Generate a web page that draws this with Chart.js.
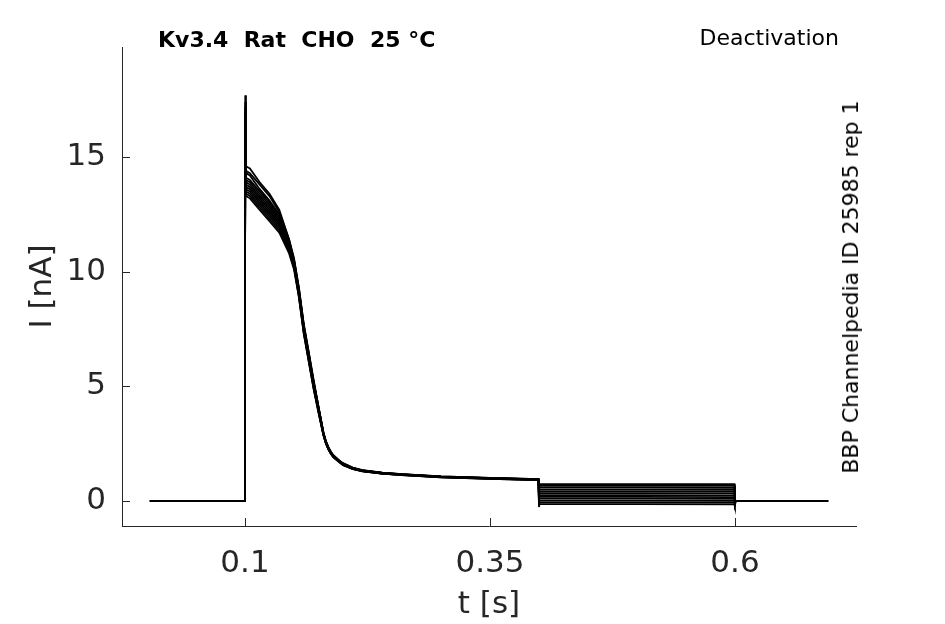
<!DOCTYPE html>
<html>
<head>
<meta charset="utf-8">
<script src="https://cdn.jsdelivr.net/npm/chart.js@4.4.1/dist/chart.umd.min.js"></script>
<style>
  html, body { margin: 0; padding: 0; background: #ffffff; }
  #wrap { position: relative; width: 945px; height: 624px; }
  canvas { position: absolute; left: 0; top: 0; }
  .note { position: absolute; font-family: "DejaVu Sans", sans-serif; color: #000; white-space: pre; line-height: 1; }
  #t1 { left: 158px; top: 29px; font-size: 22px; font-weight: bold; }
  #t2 { right: 106px; top: 27px; font-size: 22px; }
  #t3 { left: 851px; top: 287px; font-size: 22px; transform: translate(-50%, -50%) rotate(-90deg); }
</style>
</head>
<body>
<div id="wrap">
  <canvas id="c" width="945" height="624"></canvas>
  <div class="note" id="t1">Kv3.4  Rat  CHO  25 °C</div>
  <div class="note" id="t2">Deactivation</div>
  <div class="note" id="t3">BBP Channelpedia ID 25985 rep 1</div>
</div>
<script>
// time points (s)
const times = [0.003, 0.0998, 0.1, 0.1003, 0.101, 0.105, 0.115, 0.125, 0.135, 0.145,
  0.15, 0.155, 0.16, 0.165, 0.17, 0.175, 0.18, 0.1825, 0.185, 0.1875,
  0.19, 0.195, 0.2, 0.21, 0.22, 0.24, 0.26, 0.3, 0.35, 0.3995,
  0.4, 0.4005, 0.5, 0.5995, 0.6, 0.6005, 0.695];

// current sweeps (nA)
const sweep1  = [0, 0, 8, 17.7, 14.6, 14.5, 13.9, 13.4, 12.7, 11.4, 10.6, 9.3, 7.7, 6.5, 5.3, 4.1, 3.0, 2.62, 2.36, 2.16, 2.01, 1.81, 1.65, 1.46, 1.35, 1.24, 1.17, 1.07, 1.01, 0.95, 0.62, 0.75, 0.74, 0.73, -0.06, 0, 0];
const sweep2  = [0, 0, 8, 17.4, 14.4, 14.3, 13.8, 13.3, 12.6, 11.4, 10.5, 9.3, 7.7, 6.5, 5.2, 4.1, 3.0, 2.61, 2.35, 2.15, 2.0, 1.8, 1.64, 1.45, 1.34, 1.24, 1.17, 1.07, 1.01, 0.95, 0.55, 0.67, 0.66, 0.66, -0.06, 0, 0];
const sweep3  = [0, 0, 8, 17.2, 14.3, 14.2, 13.6, 13.1, 12.5, 11.3, 10.5, 9.2, 7.6, 6.4, 5.2, 4.1, 2.98, 2.6, 2.34, 2.14, 1.99, 1.79, 1.63, 1.44, 1.33, 1.23, 1.16, 1.06, 1.0, 0.94, 0.46, 0.58, 0.58, 0.57, -0.07, 0, 0];
const sweep4  = [0, 0, 8, 17.0, 14.1, 14.0, 13.5, 13.0, 12.4, 11.3, 10.5, 9.2, 7.6, 6.4, 5.2, 4.1, 2.97, 2.59, 2.33, 2.13, 1.98, 1.79, 1.62, 1.43, 1.33, 1.23, 1.16, 1.06, 1.0, 0.94, 0.38, 0.5, 0.5, 0.49, -0.07, 0, 0];
const sweep5  = [0, 0, 8, 16.9, 14.0, 13.9, 13.4, 12.9, 12.3, 11.2, 10.4, 9.2, 7.6, 6.4, 5.1, 4.0, 2.96, 2.58, 2.32, 2.12, 1.97, 1.78, 1.61, 1.43, 1.32, 1.22, 1.16, 1.06, 1.0, 0.94, 0.3, 0.42, 0.42, 0.41, -0.08, 0, 0];
const sweep6  = [0, 0, 8, 16.8, 13.9, 13.8, 13.3, 12.8, 12.2, 11.2, 10.4, 9.1, 7.5, 6.3, 5.1, 4.0, 2.95, 2.57, 2.31, 2.11, 1.96, 1.77, 1.6, 1.42, 1.32, 1.22, 1.15, 1.05, 0.99, 0.93, 0.22, 0.34, 0.34, 0.33, -0.08, 0, 0];
const sweep7  = [0, 0, 8, 16.7, 13.8, 13.7, 13.2, 12.7, 12.1, 11.1, 10.4, 9.1, 7.5, 6.3, 5.1, 4.0, 2.94, 2.56, 2.3, 2.1, 1.96, 1.77, 1.6, 1.42, 1.31, 1.21, 1.15, 1.05, 0.99, 0.93, 0.14, 0.26, 0.26, 0.25, -0.09, 0, 0];
const sweep8  = [0, 0, 8, 16.6, 13.7, 13.6, 13.1, 12.6, 12.1, 11.1, 10.3, 9.1, 7.5, 6.3, 5.0, 3.95, 2.92, 2.55, 2.29, 2.1, 1.95, 1.76, 1.59, 1.41, 1.31, 1.21, 1.15, 1.05, 0.99, 0.93, 0.06, 0.18, 0.18, 0.17, -0.1, 0, 0];
const sweep9  = [0, 0, 8, 16.5, 13.6, 13.5, 13.0, 12.5, 12.0, 11.0, 10.3, 9.0, 7.4, 6.2, 5.0, 3.95, 2.91, 2.54, 2.28, 2.09, 1.94, 1.75, 1.58, 1.41, 1.3, 1.2, 1.14, 1.04, 0.98, 0.92, -0.02, 0.1, 0.1, 0.09, -0.12, 0, 0];
const sweep10 = [0, 0, 8, 16.4, 13.5, 13.4, 12.9, 12.4, 11.9, 11.0, 10.2, 9.0, 7.4, 6.2, 5.0, 3.9, 2.9, 2.53, 2.27, 2.08, 1.93, 1.75, 1.58, 1.4, 1.3, 1.2, 1.14, 1.04, 0.98, 0.92, -0.1, 0.02, 0.02, 0.01, -0.15, 0, 0];
const sweep11 = [0, 0, 8, 16.3, 13.4, 13.3, 12.8, 12.3, 11.8, 10.9, 10.2, 8.9, 7.3, 6.1, 4.9, 3.9, 2.88, 2.52, 2.26, 2.07, 1.92, 1.74, 1.57, 1.4, 1.29, 1.19, 1.13, 1.03, 0.97, 0.91, -0.18, -0.06, -0.06, -0.07, -0.2, 0, 0];
const sweep12 = [0, 0, 8, 16.2, 13.3, 13.2, 12.7, 12.2, 11.7, 10.8, 10.1, 8.9, 7.3, 6.1, 4.9, 3.85, 2.87, 2.51, 2.25, 2.06, 1.91, 1.73, 1.56, 1.39, 1.29, 1.19, 1.13, 1.03, 0.97, 0.91, -0.26, -0.14, -0.14, -0.15, -0.25, 0, 0];

const sweeps = [sweep1, sweep2, sweep3, sweep4, sweep5, sweep6, sweep7, sweep8, sweep9, sweep10, sweep11, sweep12];

const xTicks = [0.1, 0.35, 0.6];
const xTickLabels = ['0.1', '0.35', '0.6'];
const yTicks = [0, 5, 10, 15];
const yTickLabels = ['0', '5', '10', '15'];

const axisColor = '#262626';
const font = "'DejaVu Sans', sans-serif";

const datasets = sweeps.map((s, i) => ({
  label: 'sweep ' + (i + 1),
  data: times.map((t, j) => ({ x: t, y: s[j] })),
  borderColor: '#000000',
  borderWidth: 1.8,
  pointRadius: 0,
  tension: 0,
  fill: false
}));

const inwardTicks = {
  id: 'inwardTicks',
  afterDatasetsDraw(chart) {
    const { ctx, chartArea, scales } = chart;
    ctx.save();
    ctx.strokeStyle = axisColor;
    ctx.lineWidth = 1;
    const len = 8;
    xTicks.forEach(v => {
      const px = Math.round(scales.x.getPixelForValue(v)) + 0.5;
      ctx.beginPath();
      ctx.moveTo(px, chartArea.bottom);
      ctx.lineTo(px, chartArea.bottom - len);
      ctx.stroke();
    });
    yTicks.forEach(v => {
      const py = Math.round(scales.y.getPixelForValue(v)) + 0.5;
      ctx.beginPath();
      ctx.moveTo(chartArea.left, py);
      ctx.lineTo(chartArea.left + len, py);
      ctx.stroke();
    });
    ctx.restore();
  }
};

new Chart(document.getElementById('c'), {
  type: 'line',
  data: { datasets },
  plugins: [inwardTicks],
  options: {
    responsive: false,
    animation: false,
    layout: { padding: { left: 0, right: 89, top: 47, bottom: 0 } },
    plugins: { legend: { display: false }, tooltip: { enabled: false } },
    scales: {
      x: {
        type: 'linear',
        min: -0.0255,
        max: 0.7235,
        afterBuildTicks: s => { s.ticks = xTicks.map(v => ({ value: v })); },
        afterFit: s => { s.height = 98; },
        grid: { display: true, drawOnChartArea: false, drawTicks: false, color: 'rgba(0,0,0,0)' },
        border: { display: true, color: axisColor, width: 1 },
        ticks: {
          color: axisColor,
          font: { family: font, size: 31 },
          padding: 19,
          maxRotation: 0,
          autoSkip: false,
          callback: (v) => { const i = xTicks.indexOf(v); return i >= 0 ? xTickLabels[i] : ''; }
        },
        title: {
          display: true, text: 't [s]', color: axisColor,
          font: { family: font, size: 31 }, padding: { top: 0, bottom: 0 }
        }
      },
      y: {
        type: 'linear',
        min: -1.09,
        max: 19.8,
        afterBuildTicks: s => { s.ticks = yTicks.map(v => ({ value: v })); },
        afterFit: s => { s.width = 122; },
        grid: { display: true, drawOnChartArea: false, drawTicks: false, color: 'rgba(0,0,0,0)' },
        border: { display: true, color: axisColor, width: 1 },
        ticks: {
          color: axisColor,
          font: { family: font, size: 31 },
          padding: 16,
          autoSkip: false,
          callback: (v) => { const i = yTicks.indexOf(v); return i >= 0 ? yTickLabels[i] : ''; }
        },
        title: {
          display: true, text: 'I [nA]', color: axisColor,
          font: { family: font, size: 31 }, padding: { top: 24, bottom: 0 }
        }
      }
    }
  }
});
</script>
</body>
</html>
